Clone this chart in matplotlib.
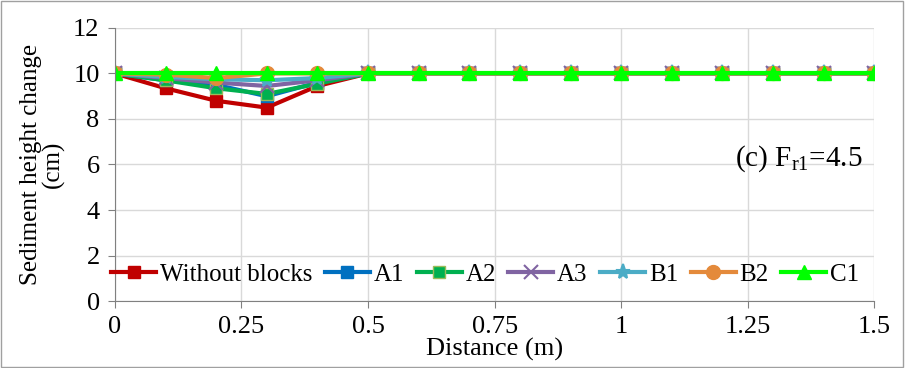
import matplotlib
matplotlib.use("Agg")
import matplotlib.pyplot as plt

plt.rcParams["font.family"] = ["Liberation Serif", "DejaVu Serif"]
plt.rcParams["mathtext.fontset"] = "custom"
plt.rcParams["mathtext.rm"] = "Liberation Serif"

# ── Data ───────────────────────────────────────────────────────────────────
distance = [0, 0.1, 0.2, 0.3, 0.4, 0.5, 0.6, 0.7, 0.8, 0.9, 1.0, 1.1, 1.2, 1.3, 1.4, 1.5]
tail = [10.0] * 11
without_blocks = [10.0, 9.35, 8.8, 8.5, 9.45] + tail
a1 = [10.0, 9.7, 9.5, 9.0, 9.6] + tail
a2 = [10.0, 9.7, 9.35, 9.1, 9.55] + tail
a3 = [10.0, 9.8, 9.6, 9.45, 9.7] + tail
b1 = [10.0, 9.85, 9.75, 9.7, 9.8] + tail
b2 = [10.0, 9.95, 9.8, 10.0, 10.0] + tail
c1 = [10.0] * 16

series = [
    ("Without blocks", without_blocks, "#C00000", "s", 9),
    ("A1", a1, "#0070C0", "s", 8),
    ("A2", a2, "#00B050", "s", 9),
    ("A3", a3, "#8064A2", "x", 10),
    ("B1", b1, "#4BACC6", "*", 11),
    ("B2", b2, "#E48A3B", "o", 10),
    ("C1", c1, "#00FF00", "^", 10),
]

fig = plt.figure(figsize=(9.05, 3.68), dpi=100)
ax = fig.add_axes([0.127, 0.182, 0.839, 0.742])

for label, vals, col, mk, ms in series:
    kw = dict(color=col, marker=mk, markersize=ms, linewidth=3, label=label)
    if label == "A2":
        kw.update(markeredgecolor="#9BBB59", markeredgewidth=1)
    if mk in ("x", "*"):
        kw.update(markeredgewidth=1.5)
    ax.plot(distance, vals, **kw)

ax.set_xlim(0, 1.5)
ax.set_ylim(0, 12)
ax.set_xticks([0, 0.25, 0.5, 0.75, 1, 1.25, 1.5])
ax.set_xticklabels(["0", "0.25", "0.5", "0.75", "1", "1.25", "1.5"])
ax.set_yticks(range(0, 13, 2))
ax.grid(True, color="#D9D9D9", linewidth=1)
ax.set_axisbelow(True)
for s in ["top", "right"]:
    ax.spines[s].set_visible(False)
ax.spines["left"].set_color("#808080")
ax.spines["bottom"].set_color("#808080")
ax.tick_params(axis="both", labelsize=19, color="#808080", length=5)
ax.tick_params(axis="x", pad=6)
ax.tick_params(axis="y", pad=6)

ax.set_xlabel("Distance (m)", fontsize=19, labelpad=0)
ax.set_ylabel("Sediment height change\n(cm)", fontsize=18, linespacing=1.0, labelpad=6)

ax.text(0.985, 0.52, r"(c) F$_{\mathrm{r1}}$=4.5", transform=ax.transAxes,
        ha="right", va="center", fontsize=21)

ax.legend(loc="lower left", bbox_to_anchor=(-0.005, 0.055), ncol=7, frameon=False,
          fontsize=18, handlelength=1.8, handletextpad=0.15, columnspacing=0.5,
          borderaxespad=0, borderpad=0)

fig.patches.append(plt.Rectangle((0.001, 0.002), 0.997, 0.995, transform=fig.transFigure,
                                 fill=False, edgecolor="#A0A0A0", linewidth=1))

plt.savefig("out.png", dpi=100)
